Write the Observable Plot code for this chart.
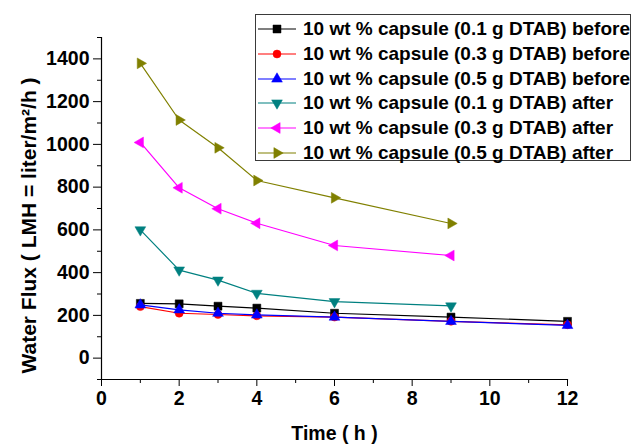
<!DOCTYPE html>
<html>
<head>
<meta charset="utf-8">
<script src="https://cdn.jsdelivr.net/npm/d3@7"></script>
<script src="https://cdn.jsdelivr.net/npm/@observablehq/plot@0.6"></script>
<style>
  html, body { margin: 0; padding: 0; background: #fff; }
  #wrap { position: relative; width: 633px; height: 444px; font-family: "Liberation Sans", Arial, sans-serif; }
  #legend { position: absolute; left: 255px; top: 14px; width: 376px; height: 147px; border: 1.5px solid #3a3a3a; box-sizing: border-box; background: #fff; }
  .row { position: absolute; left: 0; height: 24px; display: flex; align-items: center; }
  .row span { font-weight: bold; font-size: 19px; color: #000; white-space: nowrap; margin-left: 4px; }
</style>
</head>
<body>
<div id="wrap"></div>
<script>
// ---- data ----
const seriesNames = [
  "10 wt % capsule (0.1 g DTAB) before",
  "10 wt % capsule (0.3 g DTAB) before",
  "10 wt % capsule (0.5 g DTAB) before",
  "10 wt % capsule (0.1 g DTAB) after",
  "10 wt % capsule (0.3 g DTAB) after",
  "10 wt % capsule (0.5 g DTAB) after"
];
const seriesColors = ["#000000", "#ff0000", "#0000ff", "#008080", "#ff00ff", "#808000"];
const seriesSymbols = ["square", "circle", "triangle", "triangle", "triangle", "triangle"];
const seriesRotate = [0, 0, 0, 180, -90, 90];
const timesBefore = [1, 2, 3, 4, 6, 9, 12];
const timesAfter = [1, 2, 3, 4, 6, 9];
const flux01Before = [256, 254, 243, 234, 210, 192, 172];
const flux03Before = [241, 210, 204, 198, 192, 172, 156];
const flux05Before = [249, 226, 210, 202, 192, 172, 153];
const flux01After = [600, 412, 365, 303, 264, 244];
const flux03After = [1009, 797, 699, 631, 527, 480];
const flux05After = [1379, 1114, 984, 831, 750, 630];
const xMajorTicks = [0, 2, 4, 6, 8, 10, 12];
const xMinorTicks = [1, 3, 5, 7, 9, 11];
const yMajorTicks = [0, 200, 400, 600, 800, 1000, 1200, 1400];
const yMinorTicks = [-100, 100, 300, 500, 700, 900, 1100, 1300, 1500];
const xLabel = "Time ( h )";
const yLabel = "Water Flux ( LMH = liter/m\u00B2/h )";

const seriesValues = [flux01Before, flux03Before, flux05Before, flux01After, flux03After, flux05After];
const seriesTimes = [timesBefore, timesBefore, timesBefore, timesAfter, timesAfter, timesAfter];

const rows = [];
seriesNames.forEach((name, i) => {
  seriesValues[i].forEach((v, j) => rows.push({series: name, idx: i, time: seriesTimes[i][j], flux: v}));
});

const font = "Liberation Sans, Arial, sans-serif";
const marks = [
  Plot.frame({anchor: "left", stroke: "#000", strokeWidth: 1.2}),
  Plot.frame({anchor: "bottom", stroke: "#000", strokeWidth: 1.2}),
  Plot.axisX({ticks: xMinorTicks, tickSize: 4, tickFormat: () => "", label: null}),
  Plot.axisX({ticks: xMajorTicks, tickSize: 7, tickPadding: 5, tickFormat: d3.format("d"), label: null, fontSize: 19.5, fontWeight: "bold", fill: "#000"}),
  Plot.axisY({ticks: yMinorTicks, tickSize: 4, tickFormat: () => "", label: null}),
  Plot.axisY({ticks: yMajorTicks, tickSize: 8, tickPadding: 4, tickFormat: d3.format("d"), label: null, fontSize: 19.5, fontWeight: "bold", fill: "#000"})
];
seriesNames.forEach((name, i) => {
  const d = rows.filter(r => r.idx === i);
  marks.push(Plot.line(d, {x: "time", y: "flux", stroke: seriesColors[i], strokeWidth: 1.2}));
  marks.push(Plot.dot(d, {x: "time", y: "flux", symbol: () => seriesSymbols[i], r: i === 0 ? 4.5 : 4, fill: seriesColors[i], stroke: seriesColors[i], strokeWidth: 0.5, rotate: seriesRotate[i]}));
});
marks.push(Plot.text([xLabel], {text: d => d, frameAnchor: "bottom", textAnchor: "middle", dy: 60, fontSize: 19.5, fontWeight: "bold", fill: "#000"}));
marks.push(Plot.text([yLabel], {text: d => d, frameAnchor: "left", textAnchor: "middle", rotate: -90, dx: -72, dy: 17, fontSize: 21, fontWeight: "bold", fill: "#000"}));

const chart = Plot.plot({
  width: 633,
  height: 444,
  marginLeft: 101,
  marginRight: 66,
  marginTop: 37,
  marginBottom: 65,
  style: {fontFamily: font, background: "#fff", color: "#000"},
  x: {domain: [0, 12], axis: null},
  y: {domain: [-100, 1500], axis: null},
  marks
});
const wrap = document.getElementById("wrap");
wrap.appendChild(chart);

// ---- legend (HTML overlay) ----
const legend = d3.select(wrap).append("div").attr("id", "legend");
seriesNames.forEach((name, i) => {
  const row = legend.append("div").attr("class", "row").style("top", (2 + 24.75 * i) + "px");
  const svg = row.append("svg").attr("width", 42).attr("height", 24).style("margin-left", "1px");
  svg.append("line").attr("x1", 1).attr("x2", 39).attr("y1", 12).attr("y2", 12)
    .attr("stroke", seriesColors[i]).attr("stroke-width", 1.2);
  const sym = {square: d3.symbolSquare, circle: d3.symbolCircle, triangle: d3.symbolTriangle}[seriesSymbols[i]];
  const r = i === 0 ? 4.5 : 4;
  svg.append("path").attr("d", d3.symbol(sym, Math.PI * r * r)())
    .attr("transform", `translate(20,12) rotate(${seriesRotate[i]})`)
    .attr("fill", seriesColors[i]).attr("stroke", seriesColors[i]).attr("stroke-width", 0.5);
  row.append("span").text(name);
});
</script>
</body>
</html>
